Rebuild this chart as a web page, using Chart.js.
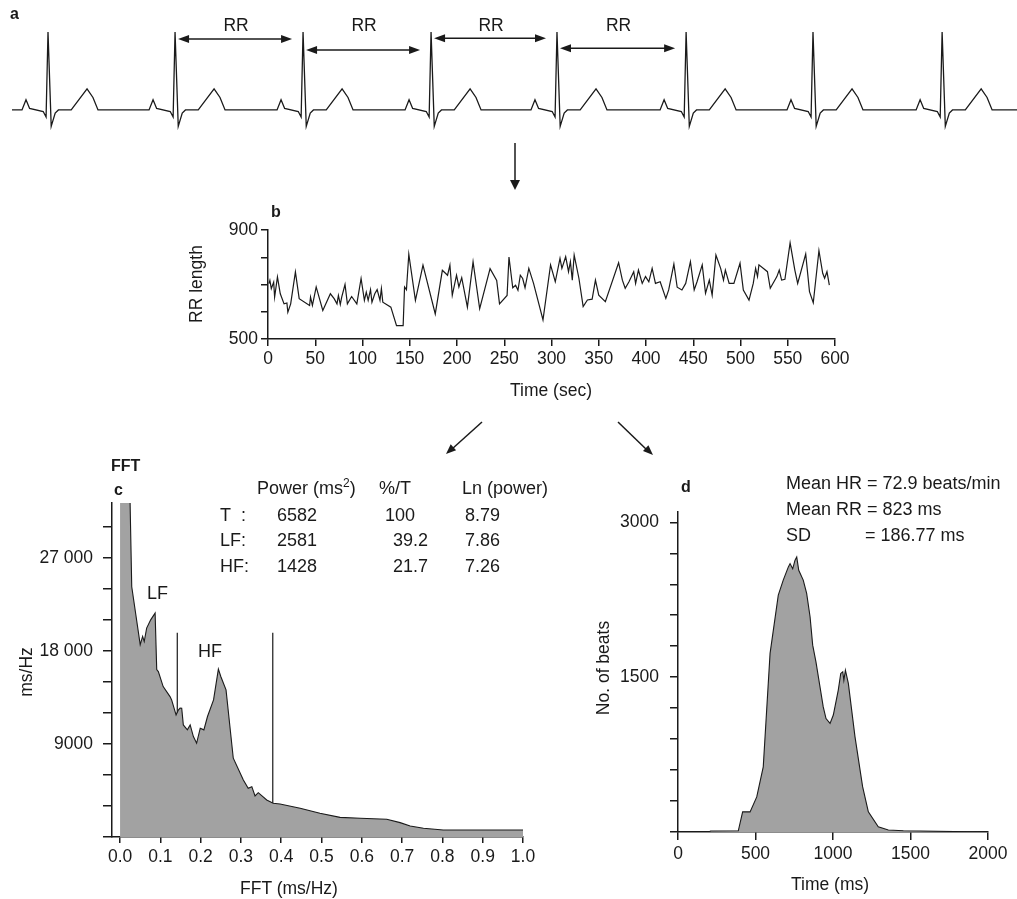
<!DOCTYPE html>
<html>
<head>
<meta charset="utf-8">
<script src="https://cdn.jsdelivr.net/npm/chart.js@4.4.1/dist/chart.umd.min.js"></script>
<style>
  body { margin: 0; background: #fff; }
  #page { position: relative; width: 1017px; height: 899px; overflow: hidden; font-family: "Liberation Sans", Arial, sans-serif; color: #1a1a1a; }
  canvas { position: absolute; }
  .t { position: absolute; white-space: nowrap; font-size: 17.5px; line-height: 20px; transform: translateY(-50%); }
  .m { font-size: 18px; }
  .c { transform: translate(-50%, -50%); }
  .r { transform: translate(-50%, -50%) rotate(-90deg); }
  .b { font-weight: bold; font-size: 16px; }
</style>
</head>
<body>
<div id="page">
  <canvas id="ecg" width="1017" height="140" style="left:0;top:0;width:1017px;height:140px"></canvas>
  <canvas id="rr" width="700" height="210" style="left:180px;top:200px;width:700px;height:210px"></canvas>
  <canvas id="fft" width="560" height="420" style="left:0;top:480px;width:560px;height:420px"></canvas>
  <canvas id="hist" width="447" height="419" style="left:570px;top:480px;width:447px;height:419px"></canvas>

  <svg width="1017" height="899" style="position:absolute;left:0;top:0;pointer-events:none">
    <g stroke="#1a1a1a" stroke-width="1.5" fill="#1a1a1a">
      <line x1="515" y1="143" x2="515" y2="182"/>
      <polygon points="510,180 520,180 515,190" stroke="none"/>
      <line x1="482" y1="422" x2="452" y2="449"/>
      <polygon points="446,454 456.1,450.3 450.7,444.3" stroke="none"/>
      <line x1="618" y1="422" x2="647" y2="450"/>
      <polygon points="653,455 643,451 648.4,445.2" stroke="none"/>
    </g>
  </svg>

  <div class="t b" style="left:10px;top:14px">a</div>

  <div class="t b" style="left:271px;top:212px">b</div>
  <div class="t r" style="left:196px;top:284px">RR length</div>
  <div class="t c" style="left:551px;top:390px">Time (sec)</div>

  <div class="t b" style="left:111px;top:466px">FFT</div>
  <div class="t b" style="left:114px;top:490px">c</div>
  <div class="t m" style="left:257px;top:488px">Power (ms<sup style="font-size:12px;line-height:0">2</sup>)</div>
  <div class="t m" style="left:379px;top:488px">%/T</div>
  <div class="t m" style="left:462px;top:488px">Ln (power)</div>
  <div class="t m" style="left:220px;top:515px">T&nbsp;&nbsp;:</div>
  <div class="t m" style="left:277px;top:515px">6582</div>
  <div class="t m" style="left:385px;top:515px">100</div>
  <div class="t m" style="left:465px;top:515px">8.79</div>
  <div class="t m" style="left:220px;top:540px">LF:</div>
  <div class="t m" style="left:277px;top:540px">2581</div>
  <div class="t m" style="left:393px;top:540px">39.2</div>
  <div class="t m" style="left:465px;top:540px">7.86</div>
  <div class="t m" style="left:220px;top:566px">HF:</div>
  <div class="t m" style="left:277px;top:566px">1428</div>
  <div class="t m" style="left:393px;top:566px">21.7</div>
  <div class="t m" style="left:465px;top:566px">7.26</div>
  <div class="t m" style="left:147px;top:593px">LF</div>
  <div class="t m" style="left:198px;top:651px">HF</div>
  <div class="t r" style="left:26px;top:672px">ms/Hz</div>
  <div class="t c" style="left:289px;top:888px">FFT (ms/Hz)</div>

  <div class="t b" style="left:681px;top:487px">d</div>
  <div class="t m" style="left:786px;top:483px">Mean HR = 72.9 beats/min</div>
  <div class="t m" style="left:786px;top:509px">Mean RR = 823 ms</div>
  <div class="t m" style="left:786px;top:535px">SD</div>
  <div class="t m" style="left:865px;top:535px">= 186.77 ms</div>
  <div class="t r" style="left:603px;top:668px">No. of beats</div>
  <div class="t c" style="left:830px;top:884px">Time (ms)</div>
</div>

<script>
// ECG: R-peak times (s) and one beat shape (offset from R in s, amplitude in mV)
const beatTimes = [0.300, 1.094, 1.894, 2.694, 3.481, 4.288, 5.081, 5.888];
const beatOffsets = [-0.1625, -0.1375, -0.115, -0.03, -0.012, 0, 0.02, 0.045, 0.065, 0.145, 0.244, 0.281, 0.3125];
const beatShape = [0, 0.13, 0.02, -0.02, -0.09, 1.0, -0.21, -0.04, 0, 0, 0.27, 0.16, 0];
const ecgSpan = [0.075, 6.356];

// RR tachogram
const rrTime = [
  1, 2, 3.5, 6, 7, 10, 13, 17, 20, 21,
  24, 29, 33, 44, 45, 47, 51, 58, 66, 70,
  73, 74.5, 76.5, 78, 81.5, 84, 88.5, 94, 98.5, 102,
  104, 106, 108.5, 110, 113, 115.5, 118.5, 120, 121.5, 130,
  136, 143, 144.5, 146.5, 149, 156, 164, 177, 184.5, 190,
  192.5, 195, 199.5, 202, 205, 211, 217, 224, 235, 242,
  245, 253, 255, 259, 262, 264.5, 267, 269.5, 272, 276,
  281, 291, 299, 304, 309, 311, 315, 318, 320, 322,
  324, 329, 333.5, 338, 343, 346.5, 350, 357, 371, 375,
  378, 382, 387, 389, 392, 396, 399.5, 403, 406.5, 410,
  415, 421, 424, 429.5, 433, 438, 442, 447, 451, 454,
  459.5, 463, 467, 470, 474, 479, 482, 484, 488, 493,
  499.5, 503, 509, 513.5, 516, 518, 519.5, 528.5, 531.5, 538.5,
  541, 543.5, 547, 552.5, 557.5, 560.5, 569, 573, 577, 583,
  587, 589, 591.5, 594
];
const rrLength = [
  703, 715, 685, 709, 654, 728, 666, 629, 632, 598,
  629, 746, 648, 623, 654, 623, 691, 605, 666, 648,
  629, 660, 627, 654, 700, 629, 656, 629, 722, 642,
  672, 642, 681, 635, 666, 681, 642, 685, 635, 617,
  549, 549, 691, 681, 811, 642, 771, 592, 752, 734,
  771, 660, 734, 691, 725, 617, 783, 611, 758, 715,
  629, 660, 801, 688, 697, 679, 734, 722, 688, 759,
  704, 570, 772, 710, 796, 759, 802, 747, 784, 716,
  808, 723, 619, 643, 646, 716, 661, 637, 780, 716,
  686, 710, 747, 704, 753, 704, 729, 710, 759, 704,
  710, 649, 680, 775, 690, 680, 704, 784, 680, 710,
  772, 668, 716, 661, 808, 759, 716, 753, 704, 704,
  778, 680, 643, 704, 759, 729, 772, 747, 686, 729,
  753, 716, 719, 853, 753, 704, 812, 674, 633, 824,
  741, 723, 747, 698
];
const rrXTicks = [0, 50, 100, 150, 200, 250, 300, 350, 400, 450, 500, 550, 600];
const rrYTicks = [500, 600, 700, 800, 900];
const rrYLabels = [500, 900];

// FFT spectrum
const fftFreq = [
  0, 0.021, 0.029, 0.05, 0.056, 0.06, 0.066, 0.076, 0.087, 0.091,
  0.095, 0.107, 0.124, 0.128, 0.139, 0.145, 0.149, 0.153, 0.157, 0.167,
  0.174, 0.182, 0.19, 0.199, 0.208, 0.217, 0.232, 0.244, 0.25, 0.263,
  0.281, 0.306, 0.318, 0.327, 0.335, 0.343, 0.364, 0.38, 0.397, 0.447,
  0.496, 0.546, 0.596, 0.662, 0.695, 0.72, 0.753, 0.802, 1.0
];
const fftPower = [
  40000, 40000, 24200, 18600, 19400, 18900, 20200, 21000, 21650, 16200,
  16000, 14550, 13580, 13260, 11800, 12300, 12460, 12450, 10840, 10360,
  10840, 9710, 9070, 10520, 10360, 11650, 13260, 16230, 15520, 14230,
  7620, 5520, 4710, 4870, 3970, 4290, 3580, 3260, 3190, 2780,
  2290, 1900, 1810, 1710, 1390, 1060, 840, 680, 680
];
const bandLines = [0.142, 0.379];
const bandTop = 19750;
const bandBottoms = [4840, 1940];
const fftXTicks = [0, 0.1, 0.2, 0.3, 0.4, 0.5, 0.6, 0.7, 0.8, 0.9, 1.0];
const fftYTicks = [0, 3000, 6000, 9000, 12000, 15000, 18000, 21000, 24000, 27000, 30000];
const fftYLabels = [9000, 18000, 27000];

// RR histogram
const histMs = [
  0, 200, 210, 389, 417, 465, 508, 550, 594, 647,
  679, 712, 723, 740, 755, 766, 779, 808, 830, 852,
  869, 890, 937, 955, 981, 1002, 1034, 1050, 1063, 1070,
  1080, 1099, 1142, 1191, 1228, 1292, 1357, 1454, 2000
];
const histBeats = [
  0, 0, 10, 12, 195, 195, 340, 631, 1730, 2294,
  2440, 2568, 2600, 2550, 2633, 2665, 2536, 2440, 2311, 2085,
  1810, 1648, 1212, 1099, 1052, 1133, 1375, 1536, 1552, 1470,
  1568, 1439, 922, 439, 195, 50, 19, 12, 0
];
const histXTicks = [0, 500, 1000, 1500, 2000];
const histYTicks = [0, 300, 600, 900, 1200, 1500, 1800, 2100, 2400, 2700, 3000];
const histYLabels = [1500, 3000];

const ink = '#1a1a1a';
const shade = '#a2a2a2';
Chart.defaults.font.family = '"Liberation Sans", Arial, sans-serif';
Chart.defaults.font.size = 17.5;
Chart.defaults.color = ink;

function pts(xs, ys) {
  return xs.map((x, i) => ({ x: x, y: ys[i] }));
}

// build the ECG trace from the beat shape
const ecgPoints = [{ x: ecgSpan[0], y: 0 }];
beatTimes.forEach(t => {
  beatOffsets.forEach((o, i) => ecgPoints.push({ x: t + o, y: beatShape[i] }));
});
ecgPoints.push({ x: ecgSpan[1], y: 0 });

function makeAxis(o) {
  return {
    type: 'linear',
    min: o.min,
    max: o.max,
    afterFit: s => {
      if (o.width) s.width = o.width;
      if (o.height) s.height = o.height;
    },
    afterBuildTicks: s => { s.ticks = o.ticks.map(v => ({ value: v })); },
    border: { display: true, color: ink, width: 1.5 },
    grid: { display: true, drawOnChartArea: false, drawTicks: true, tickLength: o.tickLength, color: ink, lineWidth: 1.5 },
    ticks: { padding: o.padding, autoSkip: false, maxRotation: 0, color: ink, font: { size: 17.5 }, callback: o.label }
  };
}

const baseOpts = {
  responsive: false,
  animation: false,
  devicePixelRatio: 1,
  plugins: { legend: { display: false }, tooltip: { enabled: false } },
  elements: { point: { radius: 0 }, line: { tension: 0 } }
};

// arrows between R peaks
const rrArrows = {
  id: 'rrArrows',
  afterDatasetsDraw(chart) {
    const { ctx, scales: { x, y } } = chart;
    const levels = [0.91, 0.77, 0.92, 0.79];
    ctx.save();
    ctx.strokeStyle = ink;
    ctx.fillStyle = ink;
    ctx.lineWidth = 1.5;
    for (let i = 0; i < levels.length; i++) {
      const x0 = x.getPixelForValue(beatTimes[i + 1]) + 3;
      const x1 = x.getPixelForValue(beatTimes[i + 2]) - 11;
      const yy = y.getPixelForValue(levels[i]);
      ctx.beginPath();
      ctx.moveTo(x0 + 6, yy);
      ctx.lineTo(x1 - 6, yy);
      ctx.stroke();
      ctx.beginPath();
      ctx.moveTo(x0, yy); ctx.lineTo(x0 + 11, yy - 4); ctx.lineTo(x0 + 11, yy + 4); ctx.closePath();
      ctx.fill();
      ctx.beginPath();
      ctx.moveTo(x1, yy); ctx.lineTo(x1 - 11, yy - 4); ctx.lineTo(x1 - 11, yy + 4); ctx.closePath();
      ctx.fill();
      ctx.font = '17.5px "Liberation Sans", Arial, sans-serif';
      ctx.textAlign = 'center';
      ctx.textBaseline = 'middle';
      ctx.fillText('RR', (x0 + x1) / 2 + 1, 26);
    }
    ctx.restore();
  }
};

new Chart(document.getElementById('ecg'), {
  type: 'line',
  data: { datasets: [{ data: ecgPoints, borderColor: ink, borderWidth: 1.3, fill: false }] },
  options: {
    ...baseOpts,
    layout: { padding: 0 },
    scales: {
      x: { type: 'linear', display: false, min: 0, max: 6.356 },
      y: { type: 'linear', display: false, min: -0.385, max: 1.41 }
    }
  },
  plugins: [rrArrows]
});

new Chart(document.getElementById('rr'), {
  type: 'line',
  data: { datasets: [{ data: pts(rrTime, rrLength), borderColor: ink, borderWidth: 1.2, fill: false }] },
  options: {
    ...baseOpts,
    layout: { padding: { left: 0, right: 45, top: 30, bottom: 0 } },
    scales: {
      x: makeAxis({ min: 0, max: 600, ticks: rrXTicks, height: 71, tickLength: 7, padding: 3, label: v => String(v) }),
      y: makeAxis({ min: 500, max: 900, ticks: rrYTicks, width: 88, tickLength: 7, padding: 3,
        label: v => rrYLabels.includes(v) ? String(v) : '' })
    }
  }
});

const bandSets = bandLines.map((f, i) => ({
  data: [{ x: f, y: bandTop }, { x: f, y: bandBottoms[i] }],
  borderColor: ink, borderWidth: 1.2, fill: false
}));

new Chart(document.getElementById('fft'), {
  type: 'line',
  data: {
    datasets: [
      { data: pts(fftFreq, fftPower), borderColor: ink, borderWidth: 1.1, backgroundColor: shade, fill: 'origin' },
      ...bandSets
    ]
  },
  options: {
    ...baseOpts,
    layout: { padding: { left: 0, right: 37, top: 23, bottom: 0 } },
    scales: {
      x: makeAxis({ min: -0.02, max: 1.0, ticks: fftXTicks, height: 63, tickLength: 6, padding: 4, label: v => v.toFixed(1) }),
      y: makeAxis({ min: 0, max: 32300, ticks: fftYTicks, width: 112, tickLength: 9, padding: 10,
        label: v => fftYLabels.includes(v) ? (v >= 10000 ? String(v).replace(/(\d)(?=(\d{3})$)/, '$1 ') : String(v)) : '' })
    }
  }
});

new Chart(document.getElementById('hist'), {
  type: 'line',
  data: { datasets: [{ data: pts(histMs, histBeats), borderColor: ink, borderWidth: 1.1, backgroundColor: shade, fill: 'origin' }] },
  options: {
    ...baseOpts,
    layout: { padding: { left: 0, right: 29, top: 32, bottom: 0 } },
    scales: {
      x: makeAxis({ min: 0, max: 2000, ticks: histXTicks, height: 67, tickLength: 8, padding: 4, label: v => String(v) }),
      y: makeAxis({ min: 0, max: 3100, ticks: histYTicks, width: 108, tickLength: 8, padding: 11,
        label: v => histYLabels.includes(v) ? String(v) : '' })
    }
  }
});
</script>
</body>
</html>
